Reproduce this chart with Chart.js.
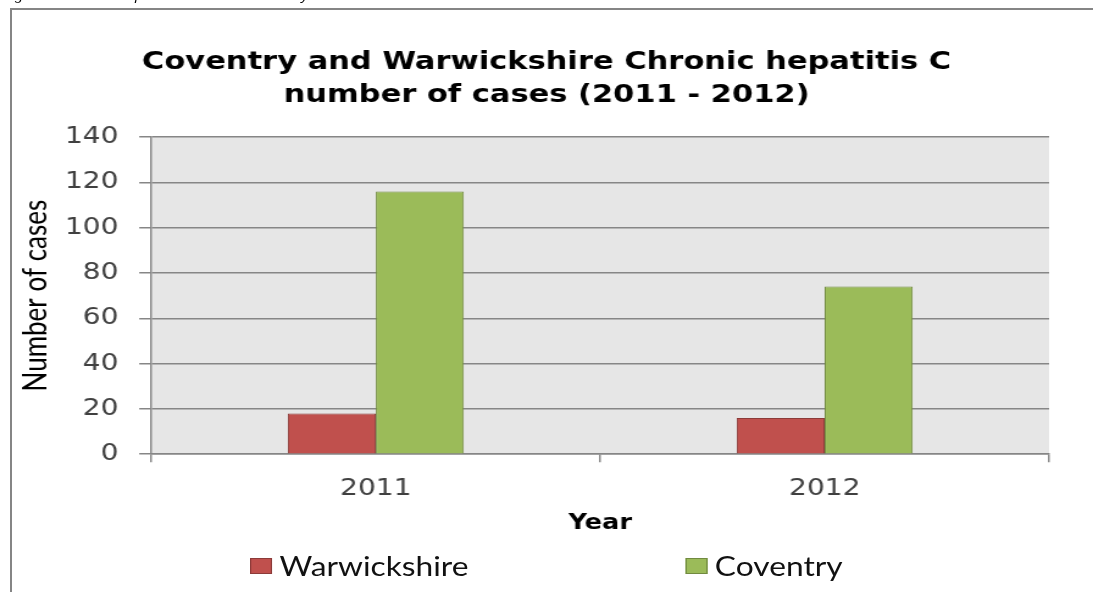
<!DOCTYPE html>
<html lang="en">
  <head>
    <meta charset="UTF-8" />
    <title>Coventry and Warwickshire Chronic hepatitis C</title>
    <style>
      body {
        margin: 0;
        width: 1093px;
        height: 592px;
        overflow: hidden;
        background: #fff;
        position: relative;
      }
      /* the source picture is stretched sideways, so is this one */
      .stretch {
        position: absolute;
        left: 0;
        top: 0;
        width: 896px;
        height: 592px;
        transform: scaleX(1.2199);
        transform-origin: 0 0;
      }
      .caption {
        position: absolute;
        left: 2px;
        top: -11px;
        font-family: "Liberation Sans", Arial, sans-serif;
        font-style: italic;
        font-size: 12px;
        line-height: 14px;
        white-space: nowrap;
        color: #000;
      }
      .frame {
        position: absolute;
        left: 10px;
        top: 8px;
        right: -10px;
        bottom: -10px;
        border-top: 2px solid #858585;
        border-left: 2px solid #858585;
      }
      .chart-wrapper {
        position: absolute;
        inset: 0;
      }
      .chart-legends {
        position: absolute;
        left: 0;
        right: 0;
        top: 551px;
      }
      .list {
        display: flex;
        justify-content: center;
        gap: 178px;
        margin: 0;
        padding: 0;
        list-style: none;
      }
      .list__item {
        display: flex;
        align-items: center;
        font-family: Lato, sans-serif;
        font-size: 26px;
        line-height: 30px;
        color: #111;
      }
      .color-box {
        width: 16px;
        height: 14px;
        margin-right: 6px;
        border: 1px solid;
      }
    </style>
  </head>
  <body>
    <div class="stretch">
      <div class="caption">
        Figure 1: Chronic hepatitis C cases in Coventry and Warwickshire 2011 - 2012
      </div>
      <div class="chart-wrapper">
        <canvas id="chartBar"></canvas>
      </div>
      <div id="chartLegends" class="chart-legends"></div>
    </div>
    <div class="frame"></div>

    <script src="https://cdn.jsdelivr.net/npm/chart.js"></script>
    <script>
      const years = ["2011", "2012"];
      const seriesNames = ["Warwickshire", "Coventry"];
      const warwickshireCases = [18, 16];
      const coventryCases = [116, 74];
      const yTickValues = [0, 20, 40, 60, 80, 100, 120, 140];

      const plotBackground = {
        id: "plotBackground",
        beforeDraw(chart) {
          const { ctx, chartArea } = chart;
          ctx.save();
          ctx.fillStyle = "#e6e6e6";
          ctx.fillRect(
            chartArea.left,
            chartArea.top,
            chartArea.right - chartArea.left,
            chartArea.bottom - chartArea.top
          );
          ctx.restore();
        },
      };

      const gridColor = "#868686";

      const chart = new Chart(document.getElementById("chartBar"), {
        type: "bar",
        data: {
          labels: years,
          datasets: [
            {
              label: seriesNames[0],
              data: warwickshireCases,
              backgroundColor: "#c0504d",
              borderColor: "#8c3b39",
              borderWidth: 1,
            },
            {
              label: seriesNames[1],
              data: coventryCases,
              backgroundColor: "#9bbb59",
              borderColor: "#718a40",
              borderWidth: 1,
            },
          ],
        },
        plugins: [plotBackground],
        options: {
          responsive: true,
          maintainAspectRatio: false,
          animation: false,
          datasets: {
            bar: { categoryPercentage: 0.392, barPercentage: 1 },
          },
          // same padding both sides keeps the title centred on the page
          layout: { padding: { top: 0, left: 36, right: 36, bottom: 56 } },
          plugins: {
            legend: { display: false },
            tooltip: { enabled: false },
            title: {
              display: true,
              text: [
                "Coventry and Warwickshire Chronic hepatitis C",
                "number of cases (2011 - 2012)",
              ],
              color: "#000",
              font: {
                family: "DejaVu Sans",
                size: 25,
                weight: "bold",
                lineHeight: 1.32,
              },
              padding: { top: 46, bottom: 25 },
            },
          },
          scales: {
            x: {
              grid: {
                display: true,
                drawOnChartArea: false,
                drawTicks: true,
                tickLength: 8,
                color: gridColor,
                lineWidth: 1.5,
                offset: true,
              },
              border: { color: gridColor, width: 1.5 },
              ticks: {
                color: "#404040",
                padding: 13,
                font: { family: "DejaVu Sans", size: 23 },
              },
              title: {
                display: true,
                text: "Year",
                color: "#000",
                font: { family: "DejaVu Sans", size: 21, weight: "bold" },
                padding: { top: -5, bottom: 0 },
              },
            },
            y: {
              min: 0,
              max: 140,
              afterBuildTicks: (axis) => {
                axis.ticks = yTickValues.map((v) => ({ value: v }));
              },
              grid: { color: gridColor, lineWidth: 1.5, tickLength: 10 },
              border: { color: gridColor, width: 1.5 },
              ticks: {
                color: "#404040",
                padding: 17,
                font: { family: "DejaVu Sans", size: 23 },
              },
              title: {
                display: true,
                text: "Number of cases",
                color: "#000",
                font: { family: "Lato", size: 26 },
                padding: { top: -22, bottom: -9 },
              },
            },
          },
        },
      });

      // legend as html, same as the boxes below the plot
      const ul = document.createElement("ul");
      ul.classList.add("list");
      document.getElementById("chartLegends").appendChild(ul);
      chart.options.plugins.legend.labels
        .generateLabels(chart)
        .forEach((item) => {
          const li = document.createElement("li");
          li.classList.add("list__item");

          const colorEl = document.createElement("span");
          colorEl.classList.add("color-box");
          colorEl.style.backgroundColor = item.fillStyle;
          colorEl.style.borderColor = item.strokeStyle;

          const textEl = document.createElement("span");
          textEl.textContent = item.text;

          li.appendChild(colorEl);
          li.appendChild(textEl);
          ul.appendChild(li);
        });
    </script>
  </body>
</html>
